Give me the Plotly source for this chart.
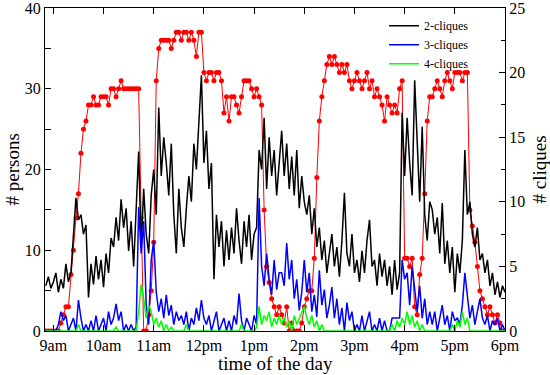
import plotly.graph_objects as go

# time grid: minutes after 9am, one sample every 3 minutes
minutes = list(range(-9, 541, 3))

persons = [
    0, 0, 0, 0,
    0, 0, 1, 2, 3, 3, 7, 10, 14, 17,
    22, 25, 26, 28, 28, 29, 28, 28, 29, 29,
    29, 28, 30, 30, 29, 30, 31, 30, 30, 30,
    30, 30, 30, 30, 14, 0, 0, 2, 5, 11,
    31, 35, 36, 36, 36, 36, 35, 36, 37, 37,
    36, 37, 37, 36, 37, 36, 34, 37, 37, 32,
    31, 32, 32, 31, 32, 32, 31, 27, 29, 26,
    29, 29, 28, 27, 29, 31, 31, 31, 30, 29,
    30, 29, 28, 15, 8, 6, 4, 3, 2, 3,
    2, 1, 3, 0, 1, 0, 0, 0, 1, 3,
    4, 5, 5, 9, 19, 26, 29, 31, 33, 34,
    33, 34, 33, 32, 33, 32, 33, 31, 30, 31,
    32, 31, 30, 31, 32, 30, 31, 29, 30, 29,
    28, 26, 29, 28, 27, 28, 27, 30, 31, 9,
    9, 8, 9, 3, 2, 7, 9, 17, 26, 29,
    29, 30, 31, 30, 29, 31, 32, 31, 30, 32,
    32, 32, 31, 32, 32, 15, 13, 11, 8, 5,
    4, 3, 2, 3, 2, 1, 2, 1, 0, 0,
]

cliques2 = [
    3.5, 4.2, 3.3, 3.8,
    4.5, 3.0, 4.0, 3.3, 5.2, 3.8, 4.5, 7.8, 10.3, 8.6,
    9.0, 7.5, 8.2, 2.6, 5.2, 3.6, 5.8, 4.0, 5.5, 3.4,
    6.0, 4.5, 7.2, 6.5, 8.8, 7.0, 10.2, 8.0, 9.5, 6.2,
    8.5, 5.0, 9.8, 13.9, 6.5, 11.0, 7.5, 6.0, 10.5, 12.5,
    9.0, 17.3, 12.0, 15.0, 13.0, 10.5, 14.5, 9.0, 6.0, 11.0,
    8.0, 6.5, 9.5, 12.0, 10.0, 14.5, 12.5, 16.0, 19.8, 13.0,
    15.5, 11.0, 13.0, 4.0, 9.0, 6.5, 8.5, 5.0, 7.8, 5.5,
    8.0, 6.0, 9.5, 7.0, 5.2, 8.5, 6.5, 9.0, 5.5, 7.5,
    8.0, 14.0, 12.5, 16.5, 11.0, 15.0, 12.0, 14.0, 10.5, 13.0,
    15.5, 12.0, 14.5, 11.0, 13.5, 10.5, 14.0, 9.5, 12.0, 10.0,
    9.0, 10.5, 7.5, 9.5, 6.5, 8.0, 5.5, 7.0, 4.5, 6.0,
    7.5, 5.0, 6.5, 4.2, 7.0, 10.7, 6.0, 5.0, 7.5, 4.5,
    5.5, 3.8, 6.2, 4.5, 7.0, 8.6, 5.0, 5.5, 3.5, 6.0,
    4.2, 5.5, 3.5, 5.0, 2.8, 5.5, 3.2, 4.5, 16.9, 12.0,
    16.5, 13.0, 10.5, 19.4, 14.0, 10.0, 15.8, 9.0, 7.0, 10.0,
    9.4, 7.5, 8.8, 6.0, 9.9, 5.2, 7.0, 4.5, 6.5, 3.0,
    6.0, 4.5, 7.0, 14.0, 9.0, 10.0, 7.5, 6.5, 8.0, 5.5,
    6.0, 4.5, 5.5, 3.5, 4.5, 2.8, 3.8, 2.6, 3.5, 3.0,
]

cliques3 = [
    0, 0, 0, 0,
    0, 0.5, 1.5, 0.8, 1.2, 0, 0.5, 1.0, 0, 2.4,
    1.0, 0, 0.5, 0, 0.8, 0, 1.2, 0, 0.5, 1.0,
    0, 1.5, 0.5, 1.0, 2.1, 0.8, 1.5, 0, 0.5, 0,
    0.5, 0, 0.3, 9.6, 6.0, 8.5, 2.0, 0.5, 5.5, 7.0,
    3.0, 1.5, 2.5, 1.0, 2.8, 1.2, 2.0, 0.5, 1.5, 0.8,
    1.2, 0.5, 1.5, 0, 1.0, 0.5, 1.8, 0.8, 2.4, 1.0,
    0.5, 1.2, 0, 0.8, 1.5, 0, 0.5, 1.0, 0, 0.8,
    0, 1.2, 0.5, 2.9, 0.8, 0, 1.0, 0.5, 0, 1.2,
    0.5, 10.3, 5.0, 3.5, 6.0, 4.0, 2.8, 5.5, 3.2, 4.5,
    4.5, 3.5, 6.8, 4.0, 5.5, 2.5, 4.0, 1.6, 3.0, 5.5,
    3.0, 4.5, 1.5, 2.8, 1.1, 4.7, 2.0, 3.2, 1.0, 2.0,
    3.4, 1.0, 2.5, 0.5, 1.8, 0, 2.2, 0.8, 1.5, 0,
    0.5, 0, 1.2, 0, 0.8, 1.5, 0, 0.5, 0, 1.0,
    0, 0.8, 0, 0, 1.0, 1.0, 1.0, 1.0, 5.5, 4.0,
    4.5, 2.0, 5.0, 3.0, 1.5, 3.5, 1.0, 2.5, 0.5, 1.5,
    0.5, 1.5, 0, 1.0, 2.0, 0.5, 1.2, 0, 1.5, 0.8,
    1.0, 0.5, 2.0, 4.5, 2.5, 1.0, 2.0, 0.5, 1.5, 2.5,
    1.0, 0.5, 1.2, 0, 0.8, 0.5, 1.0, 0, 0.5, 0,
]

cliques4 = [
    0, 0, 0, 0,
    0, 0, 0, 0, 0, 0, 0, 0, 0, 0.5,
    0, 0, 0, 0, 0, 0, 0, 0, 0, 0,
    0, 0, 0, 0, 0.3, 0, 0, 0, 0, 0,
    0, 0, 0, 1.5, 3.6, 2.5, 1.0, 2.0, 1.5, 0.5,
    1.0, 0.3, 0.8, 0, 0.5, 0, 0.3, 0, 0, 0,
    0, 0, 0.5, 0, 0, 0, 0, 0, 0, 0,
    0, 0, 0, 0, 0, 0, 0, 0, 0, 0,
    0, 0, 0, 0, 0.5, 0, 0, 0, 0, 0,
    0.3, 1.9, 0.5, 1.2, 0.8, 1.5, 0.3, 1.0, 0.5, 1.2,
    0.5, 1.0, 0.3, 0.8, 0, 1.2, 0.5, 1.0, 1.5, 1.9,
    1.0, 0.5, 1.2, 0.3, 0.8, 0, 0.5, 0, 0, 0,
    0, 0, 0, 0, 0, 0, 0, 0, 0, 0,
    0, 0, 0, 0, 0, 0, 0, 0, 0, 0,
    0, 0, 0, 0, 0.5, 0, 0.8, 0.3, 1.0, 0.5,
    1.5, 0.5, 1.2, 0.3, 0.8, 0, 0.5, 0, 0, 0,
    0, 0, 0, 0, 0, 0, 0, 0, 0.5, 0,
    0.8, 0.3, 1.5, 0.5, 1.0, 0, 0, 0, 0, 0,
    0, 0, 0, 0, 0, 0, 0, 0, 0, 0,
]

tick_minutes = [0, 60, 120, 180, 240, 300, 360, 420, 480, 540]
tick_labels = ["9am", "10am", "11am", "12pm", "1pm", "2pm", "3pm", "4pm", "5pm", "6pm"]

FONT = "Liberation Serif"

fig = go.Figure()
fig.add_trace(go.Scatter(
    x=minutes, y=persons, mode="lines+markers", yaxis="y",
    line=dict(color="#ff0000", width=1),
    marker=dict(color="#ff0000", size=5),
    showlegend=False, name="persons"))
fig.add_trace(go.Scatter(
    x=minutes, y=cliques2, mode="lines", yaxis="y2",
    line=dict(color="#000000", width=1.5), name="2-cliques"))
fig.add_trace(go.Scatter(
    x=minutes, y=cliques3, mode="lines", yaxis="y2",
    line=dict(color="#0000ff", width=1.5), name="3-cliques"))
fig.add_trace(go.Scatter(
    x=minutes, y=cliques4, mode="lines", yaxis="y2",
    line=dict(color="#00ff00", width=1.5), name="4-cliques"))

fig.update_layout(
    width=550, height=375,
    margin=dict(l=45, r=45, t=8, b=44),
    paper_bgcolor="white", plot_bgcolor="white",
    font=dict(family=FONT, size=16, color="black"),
    xaxis=dict(
        range=[-10, 540], tickvals=tick_minutes, ticktext=tick_labels,
        showline=True, linecolor="black", linewidth=1, mirror="ticks",
        ticks="inside", ticklen=6, tickcolor="black", showgrid=False, zeroline=False,
        automargin=False, ticklabeloverflow="allow", tickfont=dict(size=16)),
    yaxis=dict(
        range=[0, 40], dtick=10, showline=True, linecolor="black", linewidth=1,
        ticks="inside", ticklen=6, tickcolor="black", showgrid=False, zeroline=False,
        minor=dict(dtick=5, ticks="inside", ticklen=6, tickcolor="black"),
        automargin=False, ticklabeloverflow="allow", tickfont=dict(size=16)),
    yaxis2=dict(
        range=[0, 25], dtick=5, overlaying="y", side="right",
        showline=True, linecolor="black", linewidth=1,
        ticks="inside", ticklen=6, tickcolor="black", showgrid=False, zeroline=False,
        minor=dict(dtick=2.5, ticks="inside", ticklen=4, tickcolor="black"),
        automargin=False, ticklabeloverflow="allow", tickfont=dict(size=16)),
    legend=dict(x=0.737, y=0.99, xanchor="left", yanchor="top",
                bgcolor="rgba(0,0,0,0)", font=dict(size=12, family=FONT),
                tracegroupgap=0, itemwidth=30),
    annotations=[
        dict(text="time of the day", xref="paper", yref="paper", x=0.5, y=-0.1,
             xanchor="center", yanchor="middle", showarrow=False,
             font=dict(size=19, family=FONT)),
        dict(text="# persons", xref="paper", yref="paper", x=-0.0717, y=0.5,
             xanchor="center", yanchor="middle", textangle=-90, showarrow=False,
             font=dict(size=19, family=FONT)),
        dict(text="# cliques", xref="paper", yref="paper", x=1.076, y=0.5,
             xanchor="center", yanchor="middle", textangle=-90, showarrow=False,
             font=dict(size=19, family=FONT)),
    ],
)

fig.write_html("out.html", config={"displayModeBar": False},
               post_script="document.body.style.margin='0px';")
